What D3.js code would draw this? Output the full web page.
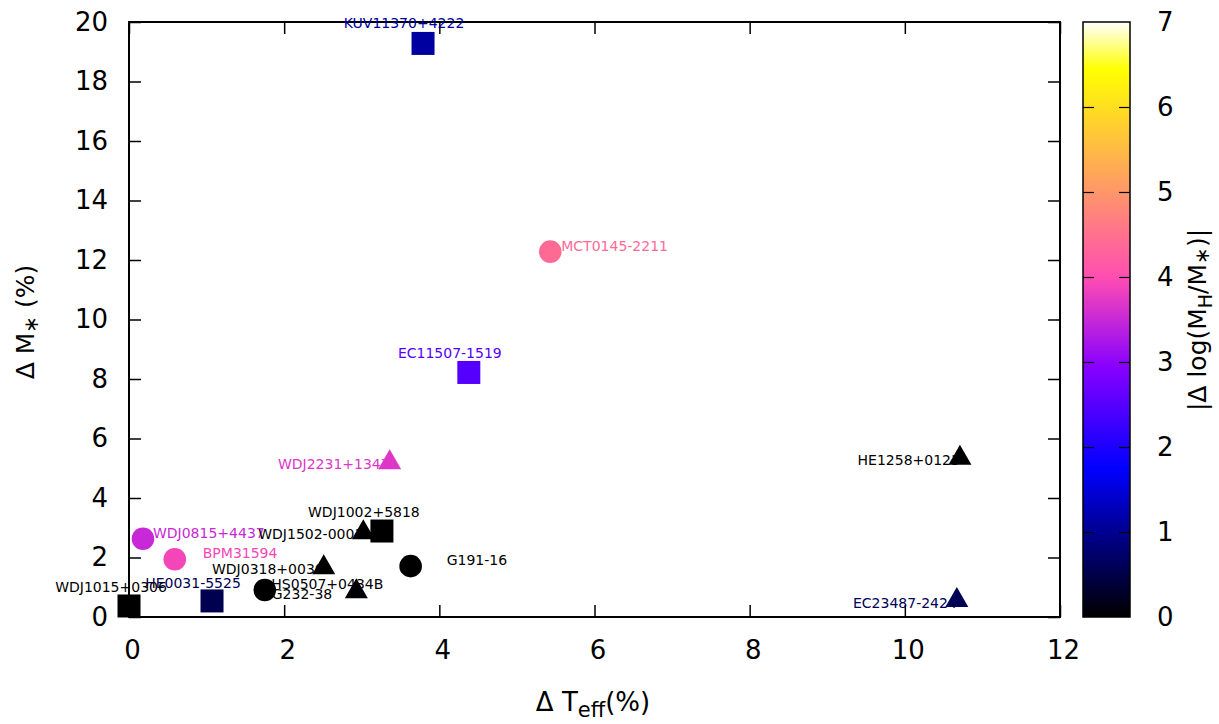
<!DOCTYPE html>
<html>
<head>
<meta charset="utf-8">
<script src="https://cdn.jsdelivr.net/npm/d3@7"></script>
<style>
  html, body { margin: 0; padding: 0; background: #fff; }
  svg { display: block; font-family: "DejaVu Sans", sans-serif; }
</style>
</head>
<body>
<svg id="chart" width="1219" height="724"></svg>
<script>
// ---------------- data ----------------
const names  = ["KUV11370+4222","MCT0145-2211","EC11507-1519","WDJ2231+1347","HE1258+0123",
                "WDJ0815+4437","BPM31594","WDJ1002+5818","WDJ1502-0001","G191-16",
                "WDJ0318+0030","HS0507+0434B","G232-38","HE0031-5525","WDJ1015+0306","EC23487-2424"];
const dTeff  = [3.79, 5.43, 4.38, 3.36, 10.71, 0.18, 0.59, 3.26, 3.02, 3.63, 2.51, 2.93, 1.75, 1.07, 0.00, 10.67];
const dMass  = [19.28, 12.28, 8.22, 5.30, 5.45, 2.63, 1.94, 2.89, 2.95, 1.71, 1.77, 0.97, 0.91, 0.54, 0.37, 0.67];
const dLogMH = [1.1, 4.4, 2.5, 3.7, 0.0, 3.5, 3.9, 0.0, 0.0, 0.0, 0.0, 0.05, 0.0, 0.55, 0.0, 0.6];
const shapes = ["square","circle","square","triangle","triangle","circle","circle","square",
                "triangle","circle","triangle","triangle","circle","square","square","triangle"];
// label placement (anchor, dx, dy in px relative to the marker)
const labelAnchor = ["middle","start","middle","end","end","start","start","middle",
                     "end","start","end","start","start","middle","middle","end"];
const labelDx = [-19, 11, -19, 0, 0, 10, 28, -18, 0, 36, 0, -85, 7, -19, -18, 0];
const labelDy = [-20, -6, -19, 5, 5, -6, -6, -19, 5, -6, 5, -4, 4, -18, -19, 6];

const xTicks  = [0, 2, 4, 6, 8, 10, 12];
const yTicks  = [0, 2, 4, 6, 8, 10, 12, 14, 16, 18, 20];
const cbTicks = [0, 1, 2, 3, 4, 5, 6, 7];

// ---------------- layout ----------------
const L = 129, R = 1060, T = 22, B = 617;
const svg = d3.select("#chart");

const x = d3.scaleLinear().domain([0, 12]).range([L, R]);
const y = d3.scaleLinear().domain([0, 20]).range([B, T]);
const cbX0 = 1083, cbX1 = 1130;
const cy = d3.scaleLinear().domain([0, 7]).range([B, T]);

// gnuplot rgbformulae 30,31,32 (black-blue-violet-yellow-white)
function clamp(v){ return Math.max(0, Math.min(1, v)); }
function pal(v){
  const t = clamp(v / 7);
  const r = clamp(t / 0.32 - 0.78125);
  const g = clamp(2 * t - 0.84);
  let b;
  if (t < 0.25) b = 4 * t;
  else if (t < 0.42) b = 1;
  else if (t < 0.92) b = -2 * t + 1.84;
  else b = t / 0.08 - 11.5;
  b = clamp(b);
  return d3.rgb(Math.round(r*255), Math.round(g*255), Math.round(b*255)).formatHex();
}

// ---------------- axes ----------------
const tickLen = 12;
const fontTick = 26;

const gx = svg.append("g").attr("transform", `translate(0,${B})`)
  .call(d3.axisBottom(x).tickValues(xTicks).tickSizeInner(-tickLen).tickSizeOuter(0).tickPadding(24));
const gy = svg.append("g").attr("transform", `translate(${L},0)`)
  .call(d3.axisLeft(y).tickValues(yTicks).tickSizeInner(-tickLen).tickSizeOuter(0).tickPadding(21));
const gxt = svg.append("g").attr("transform", `translate(0,${T})`)
  .call(d3.axisTop(x).tickValues(xTicks).tickSizeInner(-tickLen).tickSizeOuter(0).tickFormat(""));
const gyr = svg.append("g").attr("transform", `translate(${R},0)`)
  .call(d3.axisRight(y).tickValues(yTicks).tickSizeInner(-tickLen).tickSizeOuter(0).tickFormat(""));

[gx, gy, gxt, gyr].forEach(g => {
  g.select(".domain").remove();
  g.selectAll(".tick line").attr("stroke", "#000").attr("stroke-width", 1.5);
  g.selectAll(".tick text").attr("font-size", fontTick).attr("fill", "#000")
    .attr("font-family", "DejaVu Sans, sans-serif");
});
gx.selectAll(".tick text").attr("dx", 3);

// frame
svg.append("rect").attr("x", L).attr("y", T).attr("width", R - L).attr("height", B - T)
  .attr("fill", "none").attr("stroke", "#000").attr("stroke-width", 2);

// ---------------- markers ----------------
const sq = 23, rad = 11.3, triW = 23, triH = 20;
const pts = names.map((n, i) => ({
  name: n, x: dTeff[i], y: dMass[i], c: dLogMH[i], shape: shapes[i],
  anchor: labelAnchor[i], dx: labelDx[i], dy: labelDy[i]
}));

const gm = svg.append("g");
pts.forEach(d => {
  const px = x(d.x), py = y(d.y), col = pal(d.c);
  if (d.shape === "square") {
    gm.append("rect").attr("x", px - sq/2).attr("y", py - sq/2)
      .attr("width", sq).attr("height", sq).attr("fill", col);
  } else if (d.shape === "circle") {
    gm.append("circle").attr("cx", px).attr("cy", py).attr("r", rad).attr("fill", col);
  } else {
    const p = d3.path();
    p.moveTo(px, py - triH/2);
    p.lineTo(px + triW/2, py + triH/2);
    p.lineTo(px - triW/2, py + triH/2);
    p.closePath();
    gm.append("path").attr("d", p.toString()).attr("fill", col);
  }
});

// labels
const gl = svg.append("g");
pts.forEach(d => {
  gl.append("text")
    .attr("x", x(d.x) + d.dx)
    .attr("y", y(d.y) + d.dy)
    .attr("dy", "0.36em")
    .attr("text-anchor", d.anchor)
    .attr("font-size", 14)
    .attr("fill", pal(d.c))
    .text(d.name);
});

// ---------------- axis titles ----------------
const xt = svg.append("text").attr("x", 593).attr("y", 711)
  .attr("text-anchor", "middle").attr("font-size", 26).attr("fill", "#000");
xt.append("tspan").text("Δ T");
xt.append("tspan").attr("font-size", 21).attr("dy", 6).text("eff");
xt.append("tspan").attr("dy", -6).text("(%)");

const yt = svg.append("text").attr("transform", "translate(34,322) rotate(-90)")
  .attr("text-anchor", "middle").attr("font-size", 25).attr("fill", "#000");
yt.append("tspan").text("Δ M");
yt.append("tspan").attr("font-size", 20).attr("dy", 4).text("∗");
yt.append("tspan").attr("dy", -4).text(" (%)");

// ---------------- colorbar ----------------
const defs = svg.append("defs");
const grad = defs.append("linearGradient").attr("id", "cbgrad")
  .attr("x1", 0).attr("y1", 1).attr("x2", 0).attr("y2", 0);
d3.range(0, 101).forEach(k => {
  grad.append("stop").attr("offset", (k/100)).attr("stop-color", pal(7 * k / 100));
});
svg.append("rect").attr("x", cbX0).attr("y", T).attr("width", cbX1 - cbX0).attr("height", B - T)
  .attr("fill", "url(#cbgrad)");

const gcL = svg.append("g").attr("transform", `translate(${cbX0},0)`)
  .call(d3.axisLeft(cy).tickValues(cbTicks.slice(1, -1)).tickSizeInner(-11).tickSizeOuter(0).tickFormat(""));
const gcR = svg.append("g").attr("transform", `translate(${cbX1},0)`)
  .call(d3.axisRight(cy).tickValues(cbTicks).tickSizeInner(0).tickSizeOuter(0).tickPadding(27).tickFormat(d3.format("d")));
const gcR2 = svg.append("g").attr("transform", `translate(${cbX1},0)`)
  .call(d3.axisRight(cy).tickValues(cbTicks.slice(1, -1)).tickSizeInner(-11).tickSizeOuter(0).tickFormat(""));
[gcL, gcR, gcR2].forEach(g => {
  g.select(".domain").remove();
  g.selectAll(".tick line").attr("stroke", "#000").attr("stroke-width", 1.2);
  g.selectAll(".tick text").attr("font-size", fontTick).attr("fill", "#000")
    .attr("font-family", "DejaVu Sans, sans-serif");
});
svg.append("rect").attr("x", cbX0).attr("y", T).attr("width", cbX1 - cbX0).attr("height", B - T)
  .attr("fill", "none").attr("stroke", "#000").attr("stroke-width", 1.5);

const ct = svg.append("text").attr("transform", "translate(1206,320) rotate(-90)")
  .attr("text-anchor", "middle").attr("font-size", 25).attr("fill", "#000");
ct.append("tspan").text("|Δ log(M");
ct.append("tspan").attr("font-size", 19).attr("dy", 6).text("H");
ct.append("tspan").attr("dy", -6).text("/M");
ct.append("tspan").attr("font-size", 20).attr("dy", 3).text("∗");
ct.append("tspan").attr("dy", -3).text(")|");
</script>
</body>
</html>
